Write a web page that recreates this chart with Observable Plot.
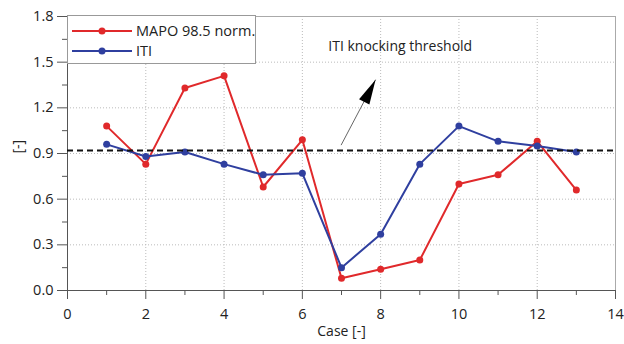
<!DOCTYPE html>
<html>
<head>
<meta charset="utf-8">
<script src="https://cdn.jsdelivr.net/npm/d3@7"></script>
<script src="https://cdn.jsdelivr.net/npm/@observablehq/plot@0.6"></script>
<style>
  html, body { margin: 0; padding: 0; background: #fff; }
</style>
</head>
<body>
<div id="chart"></div>
<script>
const cases = [1, 2, 3, 4, 5, 6, 7, 8, 9, 10, 11, 12, 13];
const mapo = [1.08, 0.83, 1.33, 1.41, 0.68, 0.99, 0.08, 0.14, 0.20, 0.70, 0.76, 0.98, 0.66];
const iti = [0.96, 0.88, 0.91, 0.83, 0.76, 0.77, 0.15, 0.37, 0.83, 1.08, 0.98, 0.95, 0.91];
const seriesNames = ["MAPO 98.5 norm.", "ITI"];
const seriesColors = ["#e0292b", "#2f3f9f"];
const threshold = 0.92;
const xTicks = [0, 2, 4, 6, 8, 10, 12, 14];
const xMinor = [1, 3, 5, 7, 9, 11, 13];
const yTicks = [0, 0.3, 0.6, 0.9, 1.2, 1.5, 1.8];
const yMinor = [0.15, 0.45, 0.75, 1.05, 1.35, 1.65];
const annotationText = "ITI knocking threshold";
const annotationPos = {x: 8.5, y: 1.6};
const arrowFrom = {x: 6.99, y: 0.955};
const arrowTo = {x: 7.87, y: 1.385};

const data = [];
cases.forEach((c, i) => {
  data.push({case: c, value: mapo[i], series: seriesNames[0]});
  data.push({case: c, value: iti[i], series: seriesNames[1]});
});

// elongated filled arrow head symbol (tip at origin, body downward)
const arrowHead = {
  draw(ctx, size) {
    const s = Math.sqrt(size / Math.PI);
    const L = 25 * s, W = 5.8 * s;
    ctx.moveTo(0, 0);
    ctx.lineTo(W, L);
    ctx.lineTo(-W, L);
    ctx.closePath();
  }
};

const legend = (index, scales, values, dims) => {
  const g = d3.create("svg:g");
  const x0 = dims.marginLeft, y0 = dims.marginTop;
  g.append("rect").attr("x", x0 + 0.5).attr("y", y0 - 0.5).attr("width", 188).attr("height", 48)
    .attr("fill", "white").attr("stroke", "#999").attr("stroke-width", 1);
  seriesNames.forEach((name, i) => {
    const y = y0 + 15 + i * 20;
    g.append("line").attr("x1", x0 + 5).attr("x2", x0 + 65).attr("y1", y).attr("y2", y)
      .attr("stroke", seriesColors[i]).attr("stroke-width", 2);
    g.append("circle").attr("cx", x0 + 35).attr("cy", y).attr("r", 3.5).attr("fill", seriesColors[i]);
    g.append("text").attr("x", x0 + 69).attr("y", y).attr("dy", "0.35em")
      .attr("text-anchor", "start")
      .attr("font-size", 14.5).attr("fill", "#222").text(name);
  });
  return g.node();
};

const chart = Plot.plot({
  width: 624,
  height: 344,
  marginLeft: 67,
  marginRight: 9,
  marginTop: 16,
  marginBottom: 54,
  style: {fontFamily: "'Open Sans', sans-serif", color: "#222", background: "#fff"},
  x: {domain: [0, 14]},
  y: {domain: [0, 1.8]},
  color: {domain: seriesNames, range: seriesColors},
  marks: [
    Plot.gridX(xTicks.slice(1, -1), {stroke: "#bbb", strokeOpacity: 1, strokeDasharray: "1,2"}),
    Plot.gridY(yTicks.slice(1, -1), {stroke: "#bbb", strokeOpacity: 1, strokeDasharray: "1,2"}),
    Plot.frame({stroke: "#aaa"}),
    Plot.ruleX([0], {stroke: "#555"}),
    Plot.ruleY([0], {stroke: "#555"}),
    Plot.axisX({ticks: xTicks, tickSize: 9, tickPadding: 9, fontSize: 14.5, label: null, stroke: "#555"}),
    Plot.axisX({ticks: xMinor, tickSize: 5, tickFormat: () => "", label: null, stroke: "#555"}),
    Plot.axisY({ticks: yTicks, tickSize: 10, tickPadding: 4, fontSize: 14.5, tickFormat: d => d.toFixed(1), label: null, stroke: "#555"}),
    Plot.axisY({ticks: yMinor, tickSize: 5, tickFormat: () => "", label: null, stroke: "#555"}),
    Plot.text(["[-]"], {frameAnchor: "left", dx: -49, rotate: -90, fontSize: 14, fill: "#222"}),
    Plot.text(["Case [-]"], {frameAnchor: "bottom", dy: 45, fontSize: 14, fill: "#222"}),
    Plot.line(data, {x: "case", y: "value", stroke: "series", z: "series", strokeWidth: 2}),
    Plot.dot(data, {x: "case", y: "value", fill: "series", r: 3.5}),
    Plot.ruleY([threshold], {stroke: "#111", strokeWidth: 2, strokeDasharray: "6,4"}),
    Plot.link([0], {x1: () => arrowFrom.x, y1: () => arrowFrom.y, x2: () => arrowTo.x, y2: () => arrowTo.y, stroke: "#666", strokeWidth: 1}),
    Plot.dot([arrowTo], {x: "x", y: "y", r: 1, symbol: () => arrowHead, fill: "#000", stroke: "none", rotate: 27}),
    Plot.text([annotationPos], {x: "x", y: "y", text: () => annotationText, fontSize: 14, fill: "#222"}),
    legend
  ]
});

document.getElementById("chart").appendChild(chart);
</script>
</body>
</html>
